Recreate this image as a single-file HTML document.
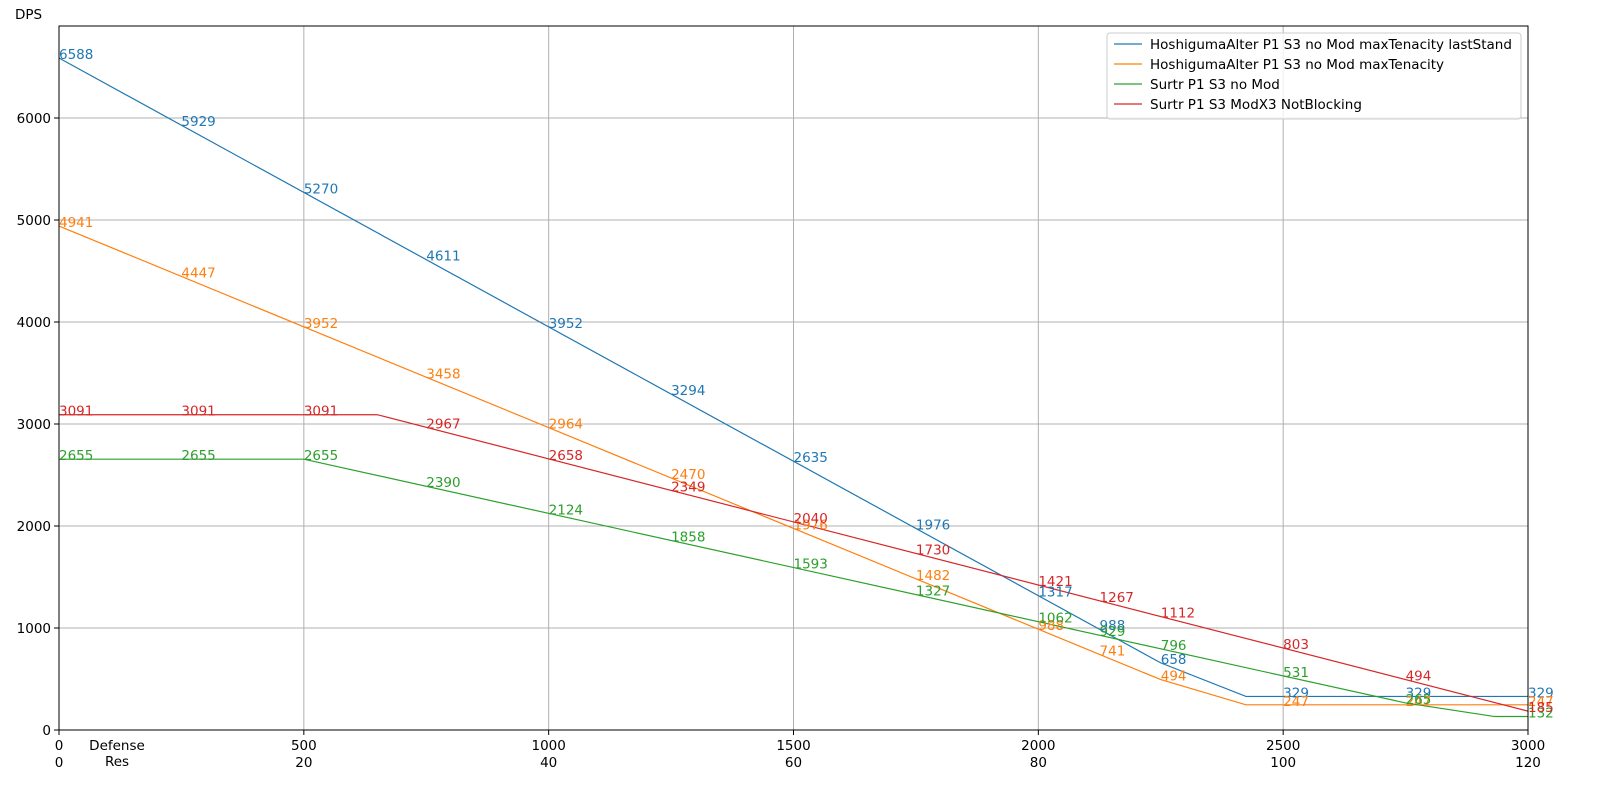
<!DOCTYPE html>
<html><head><meta charset="utf-8"><style>
html,body{margin:0;padding:0;background:#fff;}
svg text{font-family:"DejaVu Sans","Liberation Sans",sans-serif;}
</style></head><body>
<svg id="chart" width="1600" height="800" xmlns="http://www.w3.org/2000/svg"></svg>
<script>
const labelX = [0,250,500,750,1000,1250,1500,1750,2000,2125,2250,2500,2750,3000];
const blueVals = [6588,5929,5270,4611,3952,3294,2635,1976,1317,988,658,329,329,329];
const orangeVals = [4941,4447,3952,3458,2964,2470,1976,1482,988,741,494,247,247,247];
const greenVals = [2655,2655,2655,2390,2124,1858,1593,1327,1062,929,796,531,265,132];
const redVals = [3091,3091,3091,2967,2658,2349,2040,1730,1421,1267,1112,803,494,185];
const blueLineX = [0,2250,2424,3000];
const blueLineY = [6588,658,329,329];
const orangeLineX = [0,2250,2424,3000];
const orangeLineY = [4941,494,247,247];
const greenLineX = [0,500,2750,2932,3000];
const greenLineY = [2655,2655,265,132,132];
const redLineX = [0,650,3000];
const redLineY = [3091,3091,185];
const seriesNames = ["HoshigumaAlter P1 S3 no Mod maxTenacity lastStand","HoshigumaAlter P1 S3 no Mod maxTenacity","Surtr P1 S3 no Mod","Surtr P1 S3 ModX3 NotBlocking"];
const xTicks = [0,500,1000,1500,2000,2500,3000];
const xTicks2 = ["0","20","40","60","80","100","120"];
const yTicks = [0,1000,2000,3000,4000,5000,6000];

const NS="http://www.w3.org/2000/svg";
const svg=document.getElementById('chart');
const L=59,R=1528,T=26,B=730;
const FS=13.5;
const xs=v=>L+v/3000*(R-L);
const ys=v=>B-v/6000*612;
function mk(tag,attrs,parent){const e=document.createElementNS(NS,tag);for(const k in attrs)e.setAttribute(k,attrs[k]);(parent||svg).appendChild(e);return e;}

const grid=mk('g',{});


xTicks.forEach(t=>{if(t>0&&t<3000)mk('line',{x1:xs(t),x2:xs(t),y1:T,y2:B,stroke:'#b0b0b0','stroke-width':1},grid);});
yTicks.forEach(t=>{if(t>0)mk('line',{x1:L,x2:R,y1:ys(t),y2:ys(t),stroke:'#b0b0b0','stroke-width':1},grid);});

const xa=mk('g',{});


xTicks.forEach((t,i)=>{
  mk('line',{x1:xs(t),x2:xs(t),y1:B,y2:B+5,stroke:'#000'},xa);
  const a=mk('text',{x:xs(t),y:B+20,'text-anchor':'middle','font-size':FS},xa);a.textContent=t;
  const b=mk('text',{x:xs(t),y:B+37,'text-anchor':'middle','font-size':FS},xa);b.textContent=xTicks2[i];
});
const d=mk('text',{x:117,y:750,'text-anchor':'middle','font-size':FS});d.textContent='Defense';


const r=mk('text',{x:117,y:766,'text-anchor':'middle','font-size':FS});r.textContent='Res';



const ya=mk('g',{});


yTicks.forEach(t=>{
  mk('line',{x1:L-5,x2:L,y1:ys(t),y2:ys(t),stroke:'#000'},ya);
  const a=mk('text',{x:L-8,y:ys(t)+5,'text-anchor':'end','font-size':FS},ya);a.textContent=t;
});
const yt=mk('text',{x:15,y:19,'font-size':FS});yt.textContent='DPS';



const colors=['#1f77b4','#ff7f0e','#2ca02c','#d62728'];
const lines=[[blueLineX,blueLineY],[orangeLineX,orangeLineY],[greenLineX,greenLineY],[redLineX,redLineY]];
const labels=[blueVals,orangeVals,greenVals,redVals];
const keys=['blue','orange','green','red'];
lines.forEach((ln,i)=>{
  const p=mk('polyline',{points:ln[0].map((x,j)=>xs(x)+','+ys(ln[1][j])).join(' '),fill:'none',stroke:colors[i],'stroke-width':1.2});
  
  
});
labels.forEach((vals,i)=>{
  const g=mk('g',{});
  
  
  vals.forEach((v,j)=>{const t=mk('text',{x:xs(labelX[j]),y:ys(v)+1,'font-size':FS,fill:colors[i]},g);t.textContent=v;});
});

const fr=mk('rect',{x:L,y:T,width:R-L,height:B-T,fill:'none',stroke:'#000','stroke-width':1});



const lg=mk('g',{});


mk('rect',{x:1107,y:33,width:414,height:86,rx:3,fill:'#fff','fill-opacity':0.8,stroke:'#ccc'},lg);
seriesNames.forEach((n,i)=>{
  const y=44+i*20;
  const e=mk('g',{},lg);
  
  
  mk('line',{x1:1114,x2:1142,y1:y,y2:y,stroke:colors[i],'stroke-width':1.2},e);
  const t=mk('text',{x:1150,y:y+5,'font-size':FS},e);t.textContent=n;
});
</script>
</body></html>
